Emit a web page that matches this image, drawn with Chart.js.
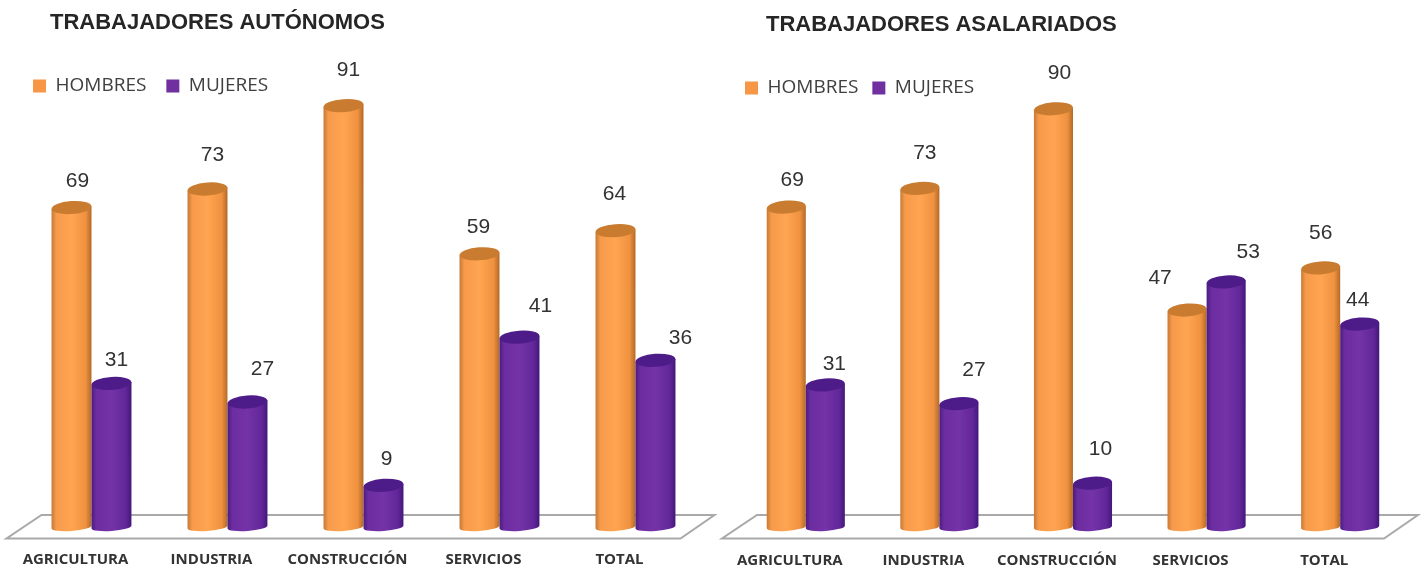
<!DOCTYPE html>
<html>
<head>
<meta charset="utf-8">
<script src="https://cdn.jsdelivr.net/npm/chart.js@4"></script>
<style>
  html, body { margin: 0; background: #fff; }
  #wrap { position: relative; width: 1427px; height: 568px; overflow: hidden; }
  .box { position: absolute; top: 0; height: 568px; }
  #boxLeft { left: 0; width: 718px; }
  #boxRight { left: 718px; width: 709px; }
  canvas { filter: blur(0.5px); }
</style>
</head>
<body>
<div id="wrap">
  <div class="box" id="boxLeft"><canvas id="autonomos"></canvas></div>
  <div class="box" id="boxRight"><canvas id="asalariados"></canvas></div>
</div>
<script>
const categories = ["AGRICULTURA", "INDUSTRIA", "CONSTRUCCIÓN", "SERVICIOS", "TOTAL"];
const seriesNames = ["HOMBRES", "MUJERES"];
const autonomosHombres = [69, 73, 91, 59, 64];
const autonomosMujeres = [31, 27, 9, 41, 36];
const asalariadosHombres = [69, 73, 90, 47, 56];
const asalariadosMujeres = [31, 27, 10, 53, 44];

const ORANGE = ["#c67a35", "#f79a4a", "#ffa552", "#f0923f", "#b36a28"];
const PURPLE = ["#4b1c80", "#6c2da0", "#7433a8", "#62279a", "#43177a"];
const ORANGE_CAP = "#c97c30";
const PURPLE_CAP = "#4e1c88";
const FLOOR_Y = 527;

function fillCylinder(ctx, bar, stops, capColor) {
  const w = bar.width, l = bar.x - w / 2, r = l + w;
  const tilt = -0.07, topRy = 6.5, botRy = 4;
  const dy = Math.sin(tilt) * w / 2;
  const base = Math.min(bar.base, FLOOR_Y);

  const g = ctx.createLinearGradient(l, 0, r, 0);
  g.addColorStop(0, stops[0]);
  g.addColorStop(0.12, stops[1]);
  g.addColorStop(0.5, stops[2]);
  g.addColorStop(0.85, stops[3]);
  g.addColorStop(1, stops[4]);

  ctx.beginPath();
  ctx.moveTo(l, bar.y - dy);
  ctx.lineTo(l, base - dy);
  ctx.ellipse(bar.x, base, w / 2, botRy, tilt, Math.PI, 0, true);
  ctx.lineTo(r, bar.y + dy);
  ctx.closePath();
  ctx.fillStyle = g;
  ctx.fill();

  ctx.beginPath();
  ctx.ellipse(bar.x, bar.y, w / 2, topRy, tilt, 0, Math.PI * 2);
  ctx.fillStyle = capColor;
  ctx.fill();
}

// draws the floor, the cylinders and the number labels in place of the flat bars
const cylinders = {
  id: "cylinders",
  beforeInit(chart) {
    // legend sits over the plot, it must not take room from it
    const fit = chart.legend.fit;
    chart.legend.fit = function () {
      fit.call(this);
      this.height = 0;
    };
  },
  beforeDraw(chart, args, opts) {
    const legend = chart.legend;
    chart.titleBlock.left = opts.titleLeft;
    legend.left = opts.legendLeft;
    legend.top = opts.legendTop;
    legend.right = legend.left + 400;
    legend.bottom = legend.top + 60;
    legend.height = 60;
  },
  beforeDatasetsDraw(chart) {
    const ctx = chart.ctx, a = chart.chartArea;
    ctx.save();
    ctx.beginPath();
    ctx.moveTo(a.left + 18, 515);
    ctx.lineTo(a.right + 11, 515);
    ctx.lineTo(a.right - 23, 538.5);
    ctx.lineTo(a.left - 17, 538.5);
    ctx.closePath();
    ctx.strokeStyle = "#a9a9a9";
    ctx.lineWidth = 2;
    ctx.stroke();
    ctx.restore();
  },
  beforeDatasetDraw() {
    return false;
  },
  afterDatasetsDraw(chart, args, opts) {
    const ctx = chart.ctx;
    ctx.save();
    chart.data.datasets.forEach((ds, d) => {
      chart.getDatasetMeta(d).data.forEach((bar) => {
        fillCylinder(ctx, bar, d === 0 ? ORANGE : PURPLE, d === 0 ? ORANGE_CAP : PURPLE_CAP);
      });
    });
    ctx.font = "21px 'Liberation Sans'";
    ctx.fillStyle = "#333333";
    ctx.textAlign = "center";
    ctx.textBaseline = "middle";
    chart.data.datasets.forEach((ds, d) => {
      chart.getDatasetMeta(d).data.forEach((bar, i) => {
        const n = opts.nudges[d][i];
        ctx.fillText(ds.data[i], bar.x + n[0], bar.y + n[1]);
      });
    });
    ctx.restore();
  }
};

function makeChart(id, hombres, mujeres, o) {
  return new Chart(document.getElementById(id), {
    type: "bar",
    data: {
      labels: categories,
      datasets: [
        { label: seriesNames[0], data: hombres, backgroundColor: "#f79646" },
        { label: seriesNames[1], data: mujeres, backgroundColor: "#7030a0" }
      ]
    },
    plugins: [cylinders],
    options: {
      responsive: true,
      maintainAspectRatio: false,
      animation: false,
      datasets: { bar: { barPercentage: 1, categoryPercentage: o.catPct } },
      layout: { padding: { left: o.padLeft, right: o.padRight, top: 0, bottom: 0 } },
      scales: {
        x: {
          grid: { display: false },
          border: { display: false },
          afterFit: (s) => { s.height = o.axisHeight; },
          ticks: {
            autoSkip: false,
            maxRotation: 0,
            labelOffset: -16,
            padding: o.tickPad,
            color: "#333333",
            font: { family: "'Open Sans'", weight: "bold", size: 15 }
          }
        },
        y: { display: false, min: 0, max: 100 }
      },
      plugins: {
        title: {
          display: true,
          text: o.title,
          color: "#262626",
          font: { family: "'Liberation Sans'", weight: "bold", size: 22, lineHeight: 1.2 },
          align: "start",
          padding: o.titlePad
        },
        legend: {
          position: "top",
          align: "start",
          labels: {
            boxWidth: 13,
            boxHeight: 13,
            padding: o.legendPad,
            color: "#404040",
            font: { family: "'Open Sans'", size: 19 }
          }
        },
        tooltip: { enabled: false },
        cylinders: {
          titleLeft: o.titleLeft,
          legendLeft: o.legendLeft,
          legendTop: o.legendTop,
          nudges: o.nudges
        }
      }
    }
  });
}

makeChart("autonomos", autonomosHombres, autonomosMujeres, {
  title: "TRABAJADORES AUTÓNOMOS",
  catPct: 0.588, padLeft: 23.5, padRight: 14.5, axisHeight: 41, tickPad: 16,
  titlePad: { top: 10, bottom: 27.6 }, titleLeft: 50, legendLeft: 13, legendTop: 56.5, legendPad: 20,
  nudges: [
    [[6, -26], [5, -34], [5, -35], [-1, -27], [-1, -36]],
    [[5, -23], [15, -33], [3, -26], [21, -31], [25, -22]]
  ]
});

makeChart("asalariados", asalariadosHombres, asalariadosMujeres, {
  title: "TRABAJADORES ASALARIADOS",
  catPct: 0.585, padLeft: 21, padRight: 20, axisHeight: 38, tickPad: 14,
  titlePad: { top: 12, bottom: 23.6 }, titleLeft: 48, legendLeft: 13, legendTop: 64.5, legendPad: 14,
  nudges: [
    [[6, -27], [5, -35], [6, -36], [-27, -32], [0, -35]],
    [[9, -21], [15, -33], [8, -34], [22, -30], [-2, -24]]
  ]
});
</script>
</body>
</html>
